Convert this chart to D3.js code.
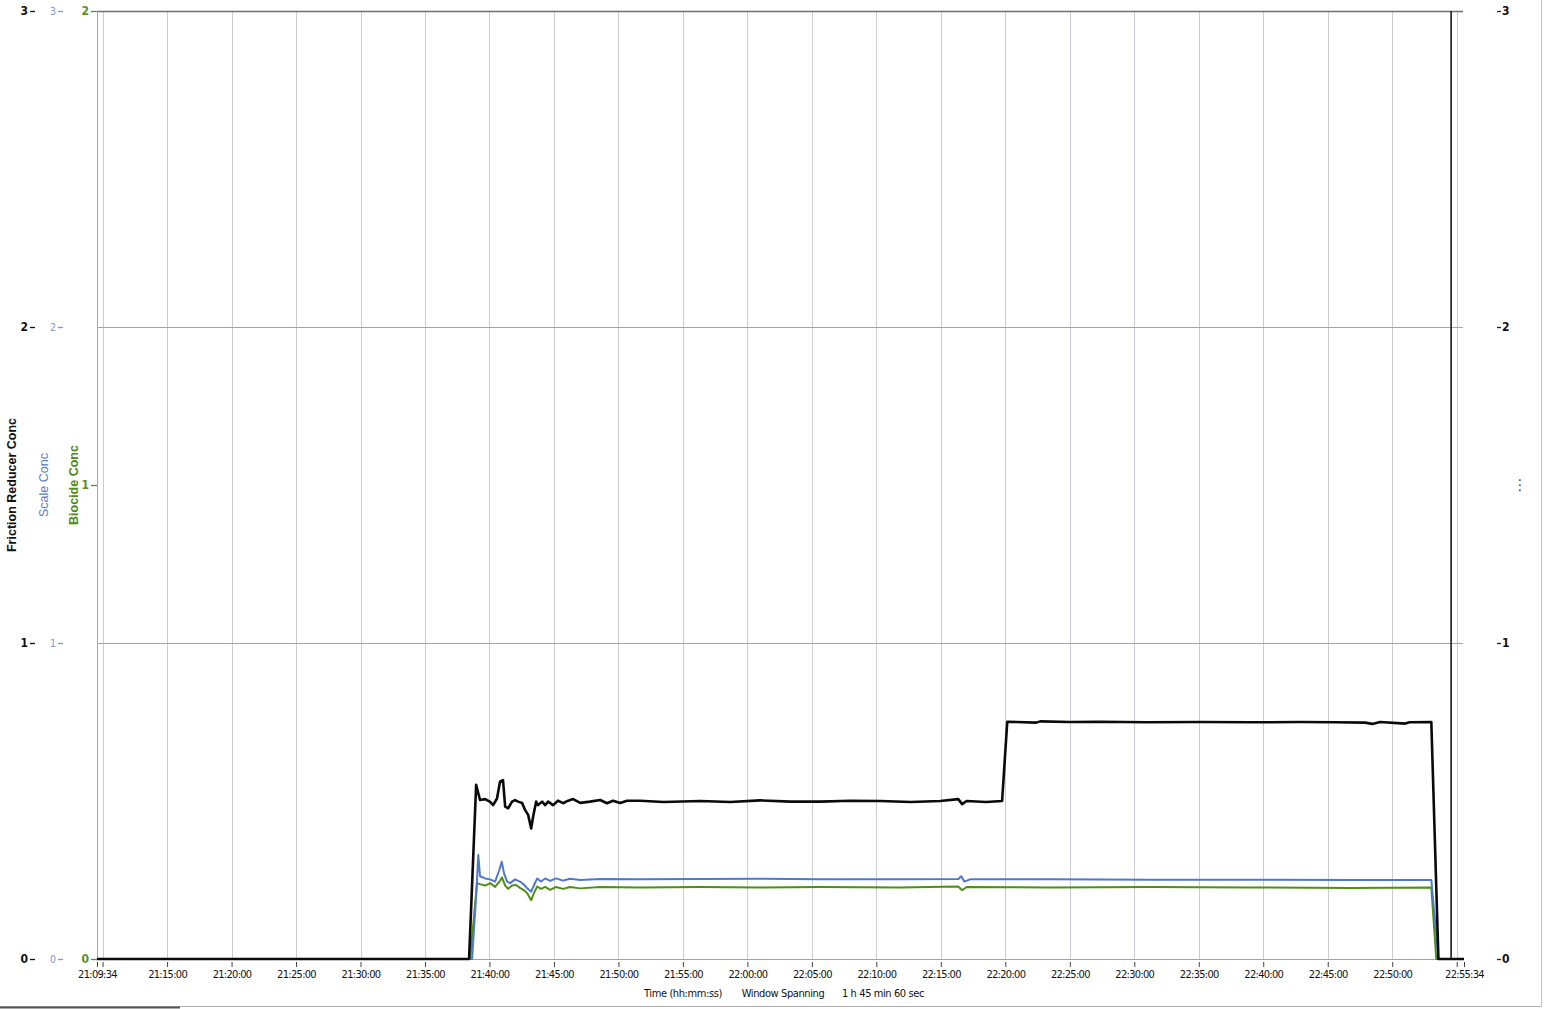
<!DOCTYPE html>
<html>
<head>
<meta charset="utf-8">
<script src="https://cdn.jsdelivr.net/npm/d3@7"></script>
<style>
  html, body { margin: 0; padding: 0; background: #fff; }
  svg { display: block; }
  .nar { font-family: "Liberation Sans Narrow", "DejaVu Sans Condensed", "Liberation Sans", sans-serif; }
</style>
</head>
<body>
<svg id="chart" width="1549" height="1009"></svg>
<script>
// ---------------- DATA ----------------
const timeStart = "21:09:34";
const timeEnd = "22:55:34";
const cursorTime = "22:54:34";
const spanLabel = "1 h 45 min 60 sec";

const xTickTimes = ["21:09:34","21:10:00","21:15:00","21:20:00","21:25:00","21:30:00","21:35:00","21:40:00",
  "21:45:00","21:50:00","21:55:00","22:00:00","22:05:00","22:10:00","22:15:00","22:20:00","22:25:00",
  "22:30:00","22:35:00","22:40:00","22:45:00","22:50:00","22:55:00","22:55:34"];
const xUnlabeled = ["21:10:00","22:55:00"];

const frTicks = [0, 1, 2, 3];
const scaleTicks = [0, 1, 2, 3];
const biocideTicks = [0, 1, 2];
const rightTicks = [0, 1, 2, 3];

// Friction Reducer Conc (left black axis, 0-3)
const frictionReducer = [
  ["21:09:34",0],["21:38:25",0],["21:38:58",0.551],["21:39:16",0.503],["21:39:40",0.506],["21:40:03",0.497],
  ["21:40:17",0.487],["21:40:35",0.508],["21:40:49",0.561],["21:41:03",0.566],["21:41:13",0.482],["21:41:27",0.477],
  ["21:41:45",0.498],["21:41:59",0.503],["21:42:13",0.498],["21:42:32",0.494],["21:42:46",0.471],["21:43:00",0.456],
  ["21:43:14",0.413],["21:43:23",0.450],["21:43:37",0.498],["21:43:46",0.487],["21:44:05",0.498],["21:44:19",0.487],
  ["21:44:33",0.498],["21:44:56",0.487],["21:45:19",0.501],["21:45:42",0.493],["21:46:06",0.501],["21:46:29",0.506],
  ["21:47:02",0.494],["21:47:48",0.498],["21:48:35",0.503],["21:49:07",0.493],["21:49:35",0.501],["21:50:08",0.494],
  ["21:50:40",0.501],["21:51:41",0.501],["21:53:30",0.497],["21:56:20",0.500],["21:58:40",0.497],["22:00:59",0.502],
  ["22:03:20",0.498],["22:05:38",0.498],["22:08:00",0.501],["22:10:18",0.500],["22:12:40",0.497],["22:14:57",0.500],
  ["22:16:21",0.506],["22:16:39",0.490],["22:17:00",0.500],["22:18:30",0.497],["22:19:45",0.500],["22:20:09",0.751],
  ["22:22:24",0.748],["22:22:42",0.752],["22:25:00",0.750],["22:27:21",0.751],["22:31:00",0.749],["22:35:07",0.750],
  ["22:39:00",0.749],["22:42:52",0.750],["22:45:30",0.749],["22:47:54",0.748],["22:48:27",0.744],["22:49:04",0.750],
  ["22:51:01",0.745],["22:51:20",0.749],["22:53:02",0.750],["22:53:35",0],["22:55:34",0]
];

// Scale Conc (blue axis, 0-3)
const scaleConc = [
  ["21:09:34",0],["21:38:39",0],["21:38:58",0.20],["21:39:08",0.329],["21:39:16",0.262],["21:39:40",0.255],
  ["21:40:03",0.252],["21:40:26",0.245],["21:40:45",0.280],["21:40:57",0.308],["21:41:08",0.270],["21:41:22",0.245],
  ["21:41:36",0.240],["21:41:59",0.252],["21:42:22",0.245],["21:42:41",0.235],["21:42:55",0.224],["21:43:14",0.213],
  ["21:43:28",0.235],["21:43:42",0.255],["21:44:00",0.245],["21:44:19",0.255],["21:44:42",0.247],["21:45:10",0.255],
  ["21:45:42",0.248],["21:46:15",0.254],["21:47:02",0.250],["21:48:35",0.253],["21:51:41",0.252],["21:56:20",0.253],
  ["22:00:59",0.254],["22:05:38",0.252],["22:11:51",0.252],["22:16:21",0.253],["22:16:35",0.262],["22:16:49",0.245],
  ["22:17:16",0.252],["22:23:29",0.252],["22:31:14",0.251],["22:38:59",0.251],["22:46:45",0.250],["22:53:02",0.250],
  ["22:53:35",0],["22:55:34",0]
];

// Biocide Conc (green axis, 0-2)
const biocideConc = [
  ["21:09:34",0],["21:38:30",0],["21:39:02",0.160],["21:39:16",0.158],["21:39:40",0.155],["21:40:03",0.160],
  ["21:40:26",0.152],["21:40:49",0.165],["21:40:58",0.172],["21:41:13",0.155],["21:41:27",0.148],["21:41:45",0.155],
  ["21:42:04",0.156],["21:42:22",0.150],["21:42:41",0.145],["21:42:55",0.139],["21:43:14",0.124],["21:43:28",0.140],
  ["21:43:42",0.153],["21:44:00",0.148],["21:44:19",0.152],["21:44:42",0.146],["21:45:10",0.152],["21:45:42",0.148],
  ["21:46:15",0.152],["21:47:02",0.149],["21:48:35",0.152],["21:51:41",0.151],["21:56:20",0.152],["22:00:59",0.151],
  ["22:05:38",0.152],["22:11:51",0.151],["22:16:21",0.153],["22:16:39",0.145],["22:17:00",0.152],["22:23:29",0.151],
  ["22:31:14",0.152],["22:38:59",0.151],["22:46:45",0.150],["22:53:02",0.151],["22:53:25",0],["22:55:34",0]
];

// ---------------- CHART ----------------
const parse = d3.timeParse("%H:%M:%S");
const svg = d3.select("#chart");
const plotL = 97, plotR = 1464, plotT = 11, plotB = 959;

const x = d3.scaleTime().domain([parse(timeStart), parse(timeEnd)]).range([plotL, plotR]);
const yFR = d3.scaleLinear().domain([0, 3]).range([plotB, plotT]);
const yScale = d3.scaleLinear().domain([0, 3]).range([plotB, plotT]);
const yBio = d3.scaleLinear().domain([0, 2]).range([plotB, plotT]);
const yRight = d3.scaleLinear().domain([0, 3]).range([plotB, plotT]);

// outer frame of screenshot
svg.append("line").attr("x1", 0).attr("x2", 1541).attr("y1", 1006.5).attr("y2", 1006.5)
  .attr("stroke", "#b0b0b0").attr("stroke-width", 1);
svg.append("line").attr("x1", 0).attr("x2", 180).attr("y1", 1007.5).attr("y2", 1007.5)
  .attr("stroke", "#555").attr("stroke-width", 2);
svg.append("line").attr("x1", 1541.5).attr("x2", 1541.5).attr("y1", 0).attr("y2", 1007)
  .attr("stroke", "#c4c4c4").attr("stroke-width", 1);

// vertical gridlines
const gridTimes = xTickTimes.filter(t => t !== timeStart && t !== timeEnd);
svg.append("g").selectAll("line").data(gridTimes).join("line")
  .attr("x1", d => Math.round(x(parse(d))) + 0.5).attr("x2", d => Math.round(x(parse(d))) + 0.5)
  .attr("y1", plotT).attr("y2", plotB)
  .attr("stroke", "#c9ccd1").attr("stroke-width", 1);

// horizontal gridlines
svg.append("g").selectAll("line").data(frTicks).join("line")
  .attr("x1", plotL).attr("x2", plotR - 1)
  .attr("y1", d => Math.round(yFR(d)) + 0.5).attr("y2", d => Math.round(yFR(d)) + 0.5)
  .attr("stroke", d => d === 3 ? "#6e6e6e" : "#a3a3a3").attr("stroke-width", d => d === 3 ? 1.3 : 1);

// left frame
svg.append("line").attr("x1", plotL + 0.5).attr("x2", plotL + 0.5).attr("y1", plotT).attr("y2", plotB)
  .attr("stroke", "#a8a8a8");

// cursor line
svg.append("line").attr("x1", x(parse(cursorTime))).attr("x2", x(parse(cursorTime)))
  .attr("y1", plotT).attr("y2", plotB).attr("stroke", "#1a1a1a").attr("stroke-width", 1.6);

// lines
function drawLine(data, yS, color, width) {
  const line = d3.line().x(d => x(parse(d[0]))).y(d => yS(d[1]));
  svg.append("path").datum(data).attr("d", line)
    .attr("fill", "none").attr("stroke", color).attr("stroke-width", width)
    .attr("stroke-linejoin", "round");
}
drawLine(biocideConc, yBio, "#4f8f16", 2);
drawLine(scaleConc, yScale, "#4f78c8", 2);
drawLine(frictionReducer, yFR, "#0a0a0a", 2.6);

// x axis
const fmt = d3.timeFormat("%H:%M:%S");
const xAxis = d3.axisBottom(x)
  .tickValues(xTickTimes.map(parse))
  .tickSize(5).tickPadding(3)
  .tickFormat(d => xUnlabeled.includes(fmt(d)) ? "" : fmt(d));
const gx = svg.append("g").attr("transform", `translate(0,${plotB + 3})`).call(xAxis);
gx.select(".domain").remove();
gx.selectAll(".tick line").attr("stroke", "#444");
gx.selectAll(".tick text").attr("class", "nar").attr("fill", "#111")
  .style("font-size", "11px").style("letter-spacing", "-0.7px");

// axis title row
const titleRow = [["Time (hh:mm:ss)", 683], ["Window Spanning", 783], [spanLabel, 883]];
svg.append("g").selectAll("text").data(titleRow).join("text")
  .attr("class", "nar").attr("x", d => d[1]).attr("y", 997)
  .attr("text-anchor", "middle").attr("fill", "#111")
  .style("font-size", "11px").style("letter-spacing", "-0.4px")
  .text(d => d[0]);

// left axes
function leftAxis(scale, ticks, xPos, size, color, fontSize, weight) {
  const g = svg.append("g").attr("transform", `translate(${xPos},0)`)
    .call(d3.axisLeft(scale).tickValues(ticks).tickSize(size).tickPadding(2).tickFormat(d3.format("d")));
  g.select(".domain").remove();
  g.selectAll(".tick line").attr("stroke", color).attr("stroke-width", 1.3);
  g.selectAll(".tick text").attr("class", "nar").attr("fill", color)
    .style("font-size", fontSize).style("font-weight", weight);
  return g;
}
leftAxis(yFR, frTicks, 35, 5, "#111", "12px", "bold");
leftAxis(yScale, scaleTicks, 63, 5, "#7b9ad0", "10.5px", "normal");
leftAxis(yBio, biocideTicks, 97, 6, "#5a8f1c", "12px", "bold");

// right axis
const gr = svg.append("g").attr("transform", `translate(1497,0)`)
  .call(d3.axisRight(yRight).tickValues(rightTicks).tickSize(4).tickPadding(1).tickFormat(d3.format("d")));
gr.select(".domain").remove();
gr.selectAll(".tick line").attr("stroke", "#222").attr("stroke-width", 1.3);
gr.selectAll(".tick text").attr("class", "nar").attr("fill", "#111")
  .style("font-size", "12px").style("font-weight", "bold");

// axis titles
const yTitles = [
  ["Friction Reducer Conc", 12, "#111", "bold"],
  ["Scale Conc", 44, "#5b80c4", "normal"],
  ["Biocide Conc", 74, "#4f8a16", "bold"]
];
svg.append("g").selectAll("text").data(yTitles).join("text")
  .attr("transform", d => `translate(${d[1]},485) rotate(-90)`)
  .attr("text-anchor", "middle").attr("dy", "0.35em")
  .attr("fill", d => d[2]).style("font-weight", d => d[3])
  .style("font-family", "'Liberation Sans', Arial, sans-serif").style("font-size", "12.5px")
  .text(d => d[0]);

// menu dots
svg.append("text").attr("x", 1520).attr("y", 490).attr("text-anchor", "middle")
  .attr("fill", "#555").style("font-size", "15px").style("font-family", "DejaVu Sans")
  .text("⋮");
</script>
</body>
</html>
